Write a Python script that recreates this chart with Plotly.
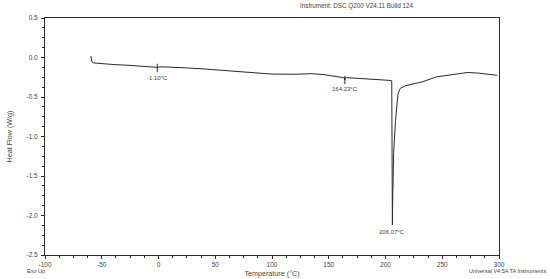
import numpy as np
import plotly.graph_objects as go

# DSC heat flow curve
temperature = [-59.6, -59.3, -58.7, -57.4, -50, -40, -25, -15, -5, -1.6, -1.1, -0.6,
               3, 10, 25, 40, 60, 80, 100, 120, 135, 145, 155, 162, 163.9, 164.23,
               164.6, 166, 180, 195, 204, 205.5, 205.7, 205.85, 205.97, 206.07, 206.4,
               207.2, 208.8, 211, 213, 218, 225, 232, 240, 245, 255, 265, 272, 280,
               290, 298.5]
heat_flow = [0.02, -0.02, -0.055, -0.068, -0.078, -0.089, -0.100, -0.108, -0.118, -0.124,
             -0.132, -0.122, -0.118, -0.121, -0.132, -0.145, -0.165, -0.19, -0.21, -0.212,
             -0.205, -0.215, -0.238, -0.245, -0.258, -0.285, -0.258, -0.255, -0.265, -0.28,
             -0.29, -0.295, -0.6, -1.2, -1.8, -2.12, -1.75, -1.2, -0.8, -0.46, -0.39, -0.355,
             -0.33, -0.31, -0.27, -0.245, -0.225, -0.20, -0.19, -0.195, -0.21, -0.225]

event_temps = [-1.10, 164.23, 206.07]
event_labels = ['-1.10°C', '164.23°C', '206.07°C']
event_shift = [-5, -4, -2]

x_ticks = [-100, -50, 0, 50, 100, 150, 200, 250, 300]
x_ticktext = ['-100', '-50', '0', '50', '100', '150', '200', '250', '300']
y_ticks = [0.5, 0.0, -0.5, -1.0, -1.5, -2.0, -2.5]
y_ticktext = ['0.5', '0.0', '-0.5', '-1.0', '-1.5', '-2.0', '-2.5']

font_family = 'Liberation Sans, Arial, sans-serif'
text_col = '#444444'
line_col = '#2a2a2a'

fig = go.Figure()
fig.add_trace(go.Scatter(x=temperature, y=heat_flow, mode='lines',
                         line=dict(color=line_col, width=1), showlegend=False,
                         hoverinfo='skip'))

event_y = list(np.interp(event_temps, temperature, heat_flow))
fig.add_trace(go.Scatter(x=event_temps[:2], y=event_y[:2], mode='markers',
                         marker=dict(symbol='line-ns', size=6,
                                     line=dict(color=line_col, width=1)),
                         showlegend=False, hoverinfo='skip'))

for t, v, lab, s in zip(event_temps, event_y, event_labels, event_shift):
    fig.add_annotation(x=t, y=v, text=lab, showarrow=False, yanchor='top',
                       yshift=s, font=dict(size=6, color=text_col, family=font_family))

fig.add_annotation(xref='paper', yref='paper', x=0.815, y=1.0, yshift=18,
                   text='Instrument: DSC Q200 V24.11 Build 124', showarrow=False,
                   yanchor='top', font=dict(size=6.3, color=text_col, family=font_family))
fig.add_annotation(xref='paper', yref='paper', x=0, xshift=-20, y=0, yshift=-16,
                   text='Exo Up', showarrow=False, yanchor='middle',
                   font=dict(size=5.5, color=text_col, family=font_family))
fig.add_annotation(xref='paper', yref='paper', x=1.0, xanchor='right', xshift=49,
                   y=0, yshift=-16, text='Universal V4.5A TA Instruments',
                   showarrow=False, yanchor='middle',
                   font=dict(size=5.5, color=text_col, family=font_family))

axis_common = dict(showline=True, linecolor=line_col, linewidth=1, mirror=True,
                   showgrid=False, zeroline=False, ticks='outside', ticklen=3,
                   tickcolor=line_col, tickwidth=1, automargin=False,
                   tickfont=dict(size=6.5, color=text_col, family=font_family))

fig.update_xaxes(range=[-100, 300], tickvals=x_ticks, ticktext=x_ticktext,
                 minor=dict(dtick=12.5, ticks='outside', ticklen=2, tickcolor=line_col),
                 title=dict(text='Temperature (°C)', standoff=4,
                            font=dict(size=7.2, color=text_col, family=font_family)),
                 **axis_common)
fig.update_yaxes(range=[-2.5, 0.5], tickvals=y_ticks, ticktext=y_ticktext,
                 ticklabelstandoff=2,
                 minor=dict(dtick=0.125, ticks='outside', ticklen=2, tickcolor=line_col),
                 title=dict(text='Heat Flow (W/g)', standoff=12,
                            font=dict(size=7.2, color=text_col, family=font_family)),
                 **axis_common)

fig.update_layout(width=550, height=279, plot_bgcolor='white', paper_bgcolor='white',
                  margin=dict(l=45, r=51, t=18, b=24),
                  font=dict(family=font_family, color=text_col))

# page body has an 8px default margin, drop it so the figure fills the window
fig.write_html('out.html', config={'displayModeBar': False},
               post_script="document.body.style.margin='0';")
